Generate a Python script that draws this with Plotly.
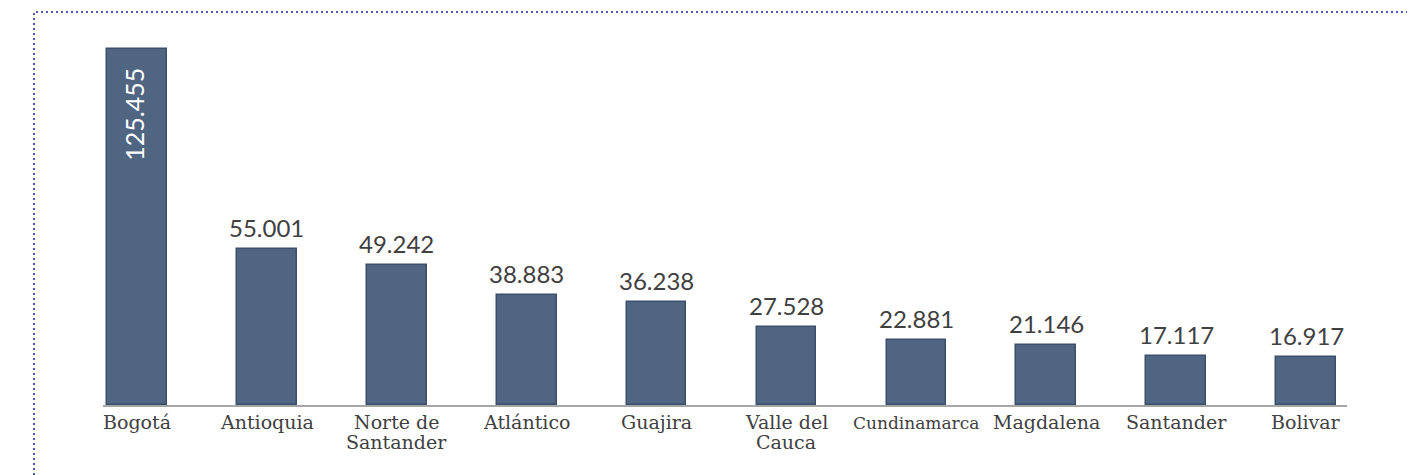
import plotly.graph_objects as go

categories = ["Bogotá", "Antioquia", "Norte de<br>Santander", "Atlántico", "Guajira",
              "Valle del<br>Cauca", "Cundinamarca", "Magdalena", "Santander", "Bolivar"]
values = [125455, 55001, 49242, 38883, 36238, 27528, 22881, 21146, 17117, 16917]
value_labels = ["125.455", "55.001", "49.242", "38.883", "36.238",
                "27.528", "22.881", "21.146", "17.117", "16.917"]
label_sizes = [19, 19, 19, 19, 19, 19, 17, 19, 19, 19]

xs = list(range(len(categories)))

# page body offset (~8px) compensation
L, T, PW, PH = 95, 32, 1244, 365

fig = go.Figure()
fig.add_trace(go.Bar(
    x=xs, y=values, width=0.46,
    marker=dict(color="#506581", line=dict(color="#3b4f6b", width=1.5)),
    hoverinfo="skip",
))

annotations = []
for i, (v, t) in enumerate(zip(values, value_labels)):
    if i == 0:
        annotations.append(dict(x=i, y=v, xref="x", yref="y", text=t, showarrow=False,
                                textangle=-90, yanchor="top", xanchor="center", yshift=-16, xshift=-3,
                                font=dict(family="Lato", size=25, color="#ffffff")))
    else:
        annotations.append(dict(x=i, y=v, xref="x", yref="y", text=t, showarrow=False,
                                yanchor="bottom", xanchor="center", yshift=5,
                                font=dict(family="Lato", size=24, color="#404040")))
for i, (c, s) in enumerate(zip(categories, label_sizes)):
    for j, line in enumerate(c.split("<br>")):
        annotations.append(dict(x=i, y=0, xref="x", yref="paper", text=line, showarrow=False,
                                yanchor="top", xanchor="center",
                                yshift=-4 - 20 * j - round((19 - s) * 1.0),
                                font=dict(family="DejaVu Serif", size=s, color="#404040")))

fig.update_layout(
    width=1415, height=475,
    margin=dict(l=L, r=1415 - L - PW, t=T, b=475 - T - PH),
    plot_bgcolor="white", paper_bgcolor="white",
    showlegend=False,
    bargap=0,
    xaxis=dict(range=[-0.2615, 9.315], showticklabels=False, showgrid=False, zeroline=False,
               showline=True, linecolor="#a6a6a6", linewidth=1.5, ticks=""),
    yaxis=dict(range=[0, 128700], visible=False),
    annotations=annotations,
    shapes=[dict(type="rect", xref="paper", yref="paper",
                 x0=(26 - L) / PW, x1=(1430 - L) / PW,
                 y0=(T + PH - 490) / PH, y1=(T + PH - 4) / PH,
                 line=dict(color="#4a5cb8", width=2, dash="2px,3px"), layer="above")],
)

fig.write_html("out.html")
